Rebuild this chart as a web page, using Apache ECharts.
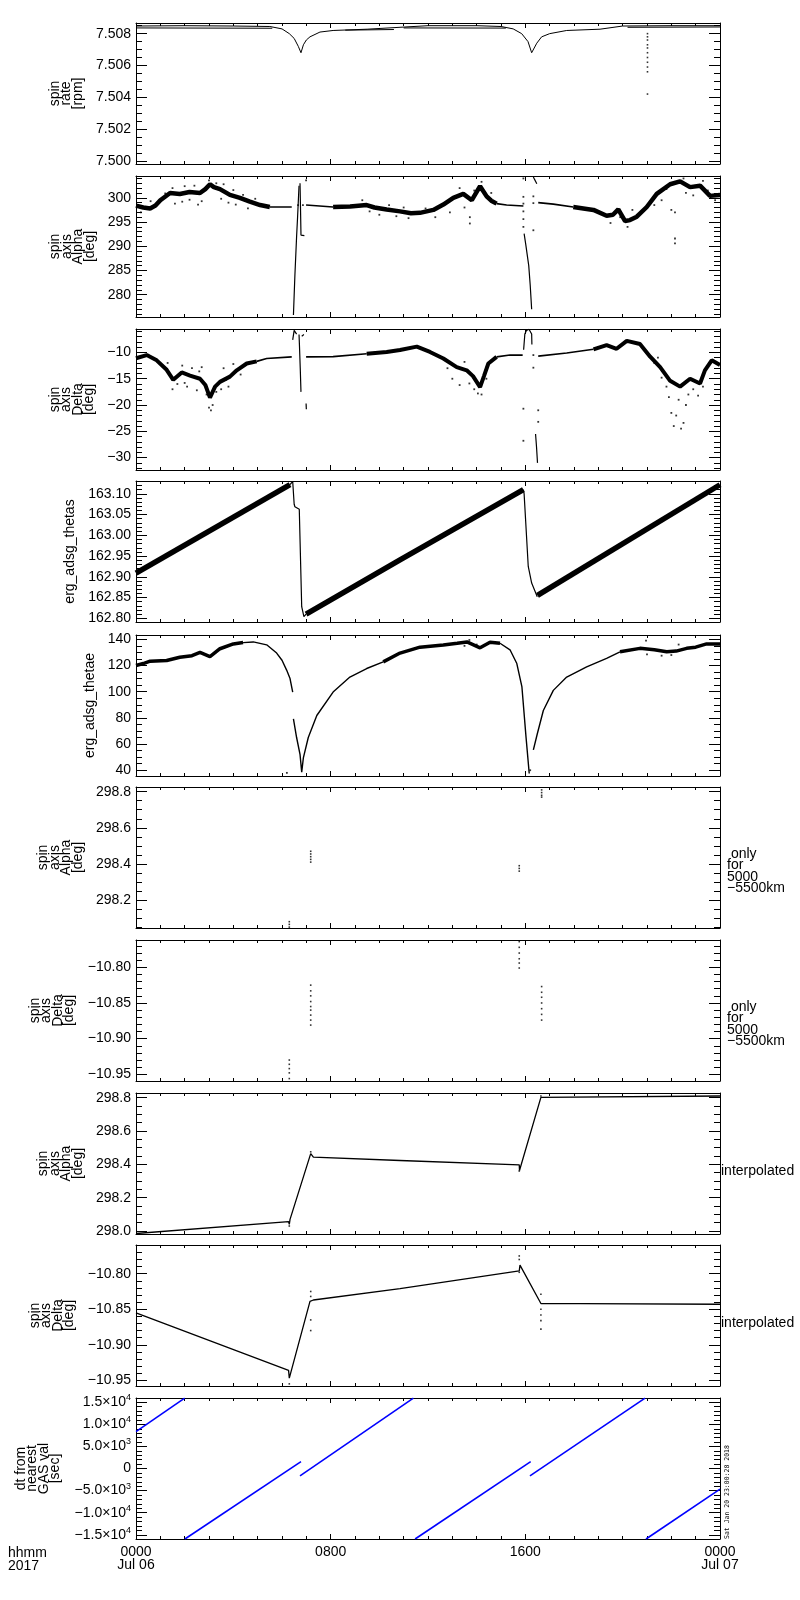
<!DOCTYPE html>
<html>
<head>
<meta charset="utf-8">
<title>spin axis</title>
<script src="https://cdn.jsdelivr.net/npm/echarts@6/dist/echarts.min.js"></script>
<style>
    html, body { margin: 0; padding: 0; background: #fff; }
    #main { width: 800px; height: 1600px; }
</style>
</head>
<body>
<div id="main"></div>
<script>
// time axis (hours from 0000 Jul 06)
var timeTicks = [0, 8, 16, 24];
var timeLabels = ['0000\nJul 06', '0800', '1600', '0000\nJul 07'];

// ---- panel 1: spin rate [rpm]
var rateTicks = [7.500, 7.502, 7.504, 7.506, 7.508];
var rateLabels = ['7.500', '7.502', '7.504', '7.506', '7.508'];
var rateMain = [[0, 7.50848], [2, 7.50850], [4, 7.50848], [5.5, 7.50845], [6.0, 7.5083], [6.3, 7.5080], [6.5, 7.5077],
    [6.67, 7.5072], [6.78, 7.5068], [6.88, 7.5073], [7.0, 7.5076], [7.15, 7.5078], [7.56, 7.5081], [8.1, 7.5082],
    [9.5, 7.50828], [10.85, 7.5084], [12, 7.5085], [14, 7.5085], [15.0, 7.50845], [15.5, 7.5083], [15.85, 7.5080],
    [16.11, 7.5075], [16.26, 7.5068], [16.47, 7.5074], [16.67, 7.5078], [17.0, 7.5080], [17.7, 7.5082],
    [19.07, 7.50828], [20.0, 7.50848], [22, 7.5085], [24, 7.5085]];
var rateLower = [
    [[0, 7.50836], [5.6, 7.50834]],
    [[8.6, 7.50822], [10.6, 7.50826]],
    [[11, 7.50836], [15.2, 7.50835]],
    [[20.2, 7.50840], [24, 7.50842]]
];
var rateSpike = [[21.02, 7.5080], [21.02, 7.5078], [21.02, 7.5076], [21.02, 7.5073], [21.02, 7.5071], [21.02, 7.5068],
    [21.02, 7.5065], [21.02, 7.5062], [21.02, 7.5059], [21.02, 7.5056], [21.02, 7.5042]];

// ---- panel 2: spin axis Alpha [deg]
var alphaTicks = [280, 285, 290, 295, 300];
var alphaLabels = ['280', '285', '290', '295', '300'];
var alphaNoisy = [
    [[0, 298.4], [0.3, 298.0], [0.58, 297.8], [0.8, 298.4], [1.0, 299.5], [1.4, 301.0], [1.8, 300.8], [2.2, 301.2],
        [2.63, 301.0], [2.85, 301.8], [3.04, 302.8], [3.2, 302.2], [3.45, 301.8], [3.86, 300.6], [4.27, 300.0],
        [4.68, 299.2], [5.1, 298.5], [5.5, 298.1]],
    [[8.1, 298.1], [8.8, 298.2], [9.48, 298.5], [9.8, 298.0], [10.3, 297.6], [10.85, 297.2], [11.3, 296.8],
        [11.67, 296.9], [12.22, 297.5], [12.63, 298.6], [13.04, 300.0], [13.45, 300.8], [13.8, 299.5], [14.14, 302.4],
        [14.41, 300.3], [14.6, 299.4], [14.82, 298.8]],
    [[17.97, 298.1], [18.8, 297.5], [19.34, 296.3], [19.6, 296.5], [19.82, 297.6], [20.1, 295.2], [20.3, 295.4],
        [20.58, 296.1], [20.99, 298.1], [21.4, 300.8], [21.95, 302.8], [22.36, 303.4], [22.77, 302.2], [23.18, 302.5],
        [23.59, 300.4], [24, 300.6]]
];
var alphaQuiet = [
    [[5.5, 298.1], [6.4, 298.1]],
    [[6.99, 298.5], [8.1, 298.1]],
    [[14.82, 298.8], [15.23, 298.5], [15.92, 298.3]],
    [[16.53, 299.0], [17.15, 298.7], [17.97, 298.1]]
];
var alphaJumps = [
    [[6.47, 275.8], [6.53, 284], [6.6, 292.0], [6.64, 296], [6.7, 302.5]],
    [[6.74, 303.0], [6.76, 298], [6.78, 292.3], [6.92, 292.2]],
    [[15.95, 292.6], [16.02, 290.3], [16.09, 290.0], [16.14, 286.0], [16.2, 282], [16.26, 277.0]],
    [[16.33, 304.3], [16.47, 302.9]]
];
var alphaDots = [[1.6, 298.8], [1.9, 299.2], [2.2, 299.6], [2.55, 298.6], [2.7, 299.3], [3.0, 303.6], [3.3, 303.0],
    [3.5, 299.8], [3.8, 299.0], [4.1, 298.6], [4.4, 300.6], [4.6, 297.8], [0.2, 297.0], [0.6, 299.3],
    [1.2, 300.9], [1.5, 302.0], [2.0, 302.4], [2.4, 302.5], [3.6, 302.8], [4.0, 301.6], [4.9, 299.8],
    [9.3, 299.5], [9.6, 297.2], [10.0, 296.5], [10.4, 298.5], [10.7, 296.2], [11.0, 298.0], [11.2, 295.8],
    [11.9, 297.8], [12.3, 296.0], [12.9, 297.0], [13.3, 302.0], [13.5, 298.0], [13.72, 294.7], [13.72, 296.0],
    [13.9, 301.5], [14.2, 303.3], [14.6, 301.0], [19.5, 294.8], [19.9, 296.0], [20.2, 294.0], [20.4, 297.5],
    [21.3, 298.5], [21.6, 299.5], [21.8, 301.8], [22.0, 297.5], [22.15, 291.6], [22.15, 290.6], [22.15, 297.0],
    [22.5, 304.0], [22.6, 301.0], [22.9, 300.5], [23.3, 303.5], [23.5, 301.5], [23.8, 299.5],
    [6.66, 298.5], [6.86, 298.5], [6.99, 303.6], [15.92, 300.2], [15.92, 298.8], [15.92, 297.2], [15.92, 295.6],
    [15.92, 294.0], [15.92, 304.0], [16.33, 300.3], [16.33, 298.9], [16.33, 293.3]];

// ---- panel 3: spin axis Delta [deg]
var deltaTicks = [-30, -25, -20, -15, -10];
var deltaLabels = ['\u221230', '\u221225', '\u221220', '\u221215', '\u221210'];
var deltaNoisy = [
    [[0, -11.1], [0.44, -10.5], [0.85, -11.5], [1.26, -13.3], [1.53, -15.2], [1.88, -13.8], [2.22, -14.4],
        [2.63, -15.0], [2.85, -16.2], [3.04, -18.6], [3.25, -16.5], [3.45, -15.6], [3.86, -14.6], [4.14, -13.4],
        [4.55, -12.1], [4.96, -11.7]],
    [[9.48, -10.25], [10.3, -9.9], [10.85, -9.55], [11.54, -8.9], [12.08, -9.9], [12.63, -11.15], [13.18, -12.8],
        [13.59, -13.4], [13.85, -14.5], [14.14, -16.6], [14.3, -14.5], [14.48, -12.1], [14.82, -10.85]],
    [[18.8, -9.4], [19.34, -8.6], [19.75, -9.3], [20.17, -7.8], [20.71, -8.4], [21.13, -10.8], [21.54, -12.8],
        [21.95, -15.4], [22.36, -16.5], [22.77, -15.0], [23.18, -15.9], [23.38, -13.4], [23.66, -11.5], [24, -12.4]]
];
var deltaQuiet = [
    [[4.96, -11.7], [5.37, -11.15], [6.4, -10.85]],
    [[6.99, -10.85], [8.1, -10.8], [9.48, -10.25]],
    [[14.82, -10.85], [15.37, -10.5], [15.89, -10.5]],
    [[16.53, -10.7], [17.7, -10.1], [18.8, -9.4]]
];
var deltaJumps = [
    [[6.44, -7.6], [6.5, -5.8], [6.56, -5.7], [6.6, -6.5]],
    [[6.7, -6.6], [6.72, -9], [6.75, -13], [6.78, -17.5]],
    [[6.81, -6.9], [6.9, -6.6]],
    [[6.99, -19.7], [7.0, -20.8]],
    [[15.93, -9.5], [15.98, -6.5], [16.05, -5.8], [16.15, -5.6], [16.22, -5.9], [16.26, -6.5], [16.27, -8.5]],
    [[16.42, -25.5], [16.46, -28], [16.5, -31.0]]
];
var deltaDots = [[1.5, -17.0], [1.7, -16.0], [1.9, -12.5], [2.1, -16.5], [2.3, -13.0], [2.5, -17.2], [2.7, -12.8],
    [2.9, -18.0], [3.0, -20.5], [3.08, -21.0], [3.15, -20.0], [3.3, -17.5], [3.5, -17.0], [3.6, -13.0],
    [3.8, -16.5], [4.0, -12.2], [4.3, -14.2], [1.3, -12.0], [2.0, -15.8], [2.6, -13.6], [3.7, -15.2],
    [12.8, -13.0], [13.0, -15.0], [13.3, -16.2], [13.5, -11.8],
    [13.7, -15.9], [13.9, -17.0], [14.05, -17.8], [14.2, -18.0], [14.4, -15.0], [20.9, -9.5], [21.3, -12.0],
    [21.45, -11.0], [21.6, -14.8], [21.8, -16.5], [21.9, -18.5], [22.0, -21.5], [22.1, -24.0], [22.2, -22.0],
    [22.3, -19.0], [22.4, -24.5], [22.5, -23.4], [22.6, -20.0], [22.7, -18.0], [22.9, -17.0], [23.1, -18.2],
    [23.3, -16.5], [15.92, -20.7], [15.92, -26.8], [16.53, -21.0], [16.53, -23.2], [16.33, -10.5],
    [16.33, -12.9]];

// ---- panel 4: erg_adsg_thetas
var thetasTicks = [162.80, 162.85, 162.90, 162.95, 163.00, 163.05, 163.10];
var thetasLabels = ['162.80', '162.85', '162.90', '162.95', '163.00', '163.05', '163.10'];
var thetasBand = [
    [[0, 162.909], [6.33, 163.122]],
    [[6.99, 162.81], [10.85, 162.941], [15.92, 163.11]],
    [[16.5, 162.855], [24, 163.122]]
];
var thetasJumps = [
    [[6.33, 163.122], [6.44, 163.13], [6.5, 163.075], [6.53, 163.069], [6.71, 163.063], [6.81, 162.828],
        [6.9, 162.804], [6.99, 162.81]],
    [[15.92, 163.11], [15.95, 163.10], [16.12, 162.925], [16.26, 162.885], [16.49, 162.852]]
];

// ---- panel 5: erg_adsg_thetae
var thetaeTicks = [40, 60, 80, 100, 120, 140];
var thetaeLabels = ['40', '60', '80', '100', '120', '140'];
var thetaeNoisy = [
    [[0, 120], [0.3, 121.5], [0.58, 123.3], [1.26, 123.8], [1.8, 126.3], [2.3, 127.5], [2.63, 130.0], [3.04, 126.8],
        [3.45, 132.8], [4.0, 136.5], [4.4, 137.5]],
    [[10.16, 122.8], [10.85, 129.5], [11.67, 134.0], [12.63, 135.6], [13.2, 137.0], [13.6, 138.0], [14.14, 133.5],
        [14.55, 137.8], [14.96, 137.0]],
    [[19.89, 130.5], [20.71, 133.1], [21.3, 132], [21.81, 130.5], [22.2, 131], [22.63, 133.1], [23.0, 134],
        [23.45, 136.5], [24, 136.5]]
];
var thetaeQuiet = [
    [[4.4, 137.5], [4.82, 138.0], [5.37, 135.8], [5.78, 129.5], [6.0, 124], [6.19, 116.5], [6.33, 110], [6.44, 99.7]],
    [[6.47, 79.2], [6.6, 65], [6.74, 52.2], [6.81, 38.5], [6.88, 49.7], [7.08, 65], [7.43, 81.8], [8.1, 99.7],
        [8.79, 111.2], [9.48, 117.7], [10.16, 122.8]],
    [[14.96, 137.0], [15.37, 132.0], [15.65, 121.5], [15.86, 103.6], [16.03, 65], [16.16, 37.5]],
    [[16.33, 55.5], [16.49, 67.7], [16.74, 85.6], [17.15, 101], [17.7, 111.2], [18.52, 118.9], [19.34, 125.4],
        [19.89, 130.5]]
];
var thetaeDots = [[13.5, 135], [13.7, 139.5], [14.0, 136], [20.96, 139], [21.0, 128.5], [21.6, 127.5],
    [22.0, 128], [22.3, 136], [6.2, 38], [16.2, 40]];

// ---- panel 6 and 7: only for 5000-5500km
var selAlphaTicks = [298.2, 298.4, 298.6, 298.8];
var selAlphaLabels = ['298.2', '298.4', '298.6', '298.8'];
var selAlphaDots = [[7.18, 298.47], [7.18, 298.455], [7.18, 298.44], [7.18, 298.425], [7.18, 298.41],
    [6.3, 298.08], [6.3, 298.065], [6.3, 298.05], [15.75, 298.39], [15.75, 298.375], [15.75, 298.36],
    [16.67, 298.81], [16.67, 298.795], [16.67, 298.78], [16.67, 298.77]];
var selDeltaTicks = [-10.95, -10.90, -10.85, -10.80];
var selDeltaLabels = ['\u221210.95', '\u221210.90', '\u221210.85', '\u221210.80'];
var selDeltaDots = [[7.18, -10.825], [7.18, -10.833], [7.18, -10.84], [7.18, -10.848], [7.18, -10.855],
    [7.18, -10.86], [7.18, -10.867], [7.18, -10.874], [7.18, -10.881], [6.3, -10.93], [6.3, -10.936],
    [6.3, -10.942], [6.3, -10.948], [6.3, -10.956], [15.75, -10.764], [15.75, -10.772], [15.75, -10.78],
    [15.75, -10.788], [15.75, -10.794], [15.75, -10.801], [16.67, -10.827], [16.67, -10.835], [16.67, -10.842],
    [16.67, -10.85], [16.67, -10.858], [16.67, -10.866], [16.67, -10.874]];

// ---- panel 8 and 9: interpolated
var intAlphaTicks = [298.0, 298.2, 298.4, 298.6, 298.8];
var intAlphaLabels = ['298.0', '298.2', '298.4', '298.6', '298.8'];
var intAlphaLine = [[0, 297.985], [6.27, 298.056], [6.3, 298.04], [6.33, 298.07], [7.18, 298.464], [7.29, 298.443],
    [10.85, 298.423], [15.75, 298.397], [15.76, 298.363], [16.64, 298.802], [24, 298.81]];
var intAlphaDots = [[6.3, 298.03], [7.18, 298.475], [15.75, 298.36], [16.64, 298.81]];
var intDeltaTicks = [-10.95, -10.90, -10.85, -10.80];
var intDeltaLabels = ['\u221210.95', '\u221210.90', '\u221210.85', '\u221210.80'];
var intDeltaLine = [[0, -10.855], [6.27, -10.936], [6.3, -10.947], [7.15, -10.839], [7.29, -10.837],
    [10.85, -10.821], [15.75, -10.796], [15.78, -10.788], [16.64, -10.842], [18.25, -10.842], [18.3, -10.843],
    [24, -10.843]];
var intDeltaDots = [[15.75, -10.775], [15.75, -10.78], [15.75, -10.798], [16.64, -10.829], [16.64, -10.85],
    [16.64, -10.858], [16.64, -10.866], [16.64, -10.878], [7.18, -10.825], [7.18, -10.832], [7.18, -10.865],
    [7.18, -10.88], [6.3, -10.955]];

// ---- panel 10: dt from nearest GAS val [sec]
var dtTicks = [-15000, -10000, -5000, 0, 5000, 10000, 15000];
var dtLabels = ['\u22121.5\u00d710{s|4}', '\u22121.0\u00d710{s|4}', '\u22125.0\u00d710{s|3}', '0',
    '5.0\u00d710{s|3}', '1.0\u00d710{s|4}', '1.5\u00d710{s|4}'];
var dtSegments = [
    [[0, 8350], [2.0, 15950]],
    [[2.01, -15950], [6.78, 1570]],
    [[6.74, -1660], [11.4, 15950]],
    [[11.47, -15950], [16.22, 1570]],
    [[16.19, -1660], [20.92, 15950]],
    [[20.96, -15950], [24, -4670]]
];

var FONT = 'Liberation Sans';
var panelTop = [23, 176, 329, 481, 635, 787, 940, 1093, 1245, 1398];
var panelHeight = 141;

var panels = [
    {name: 'spin\nrate\n[rpm]', gap: 51, min: 7.4998, max: 7.50867, ticks: rateTicks, labels: rateLabels, minor: 0.0005},
    {name: 'spin\naxis\nAlpha\n[deg]', gap: 38, min: 275.4, max: 304.5, ticks: alphaTicks, labels: alphaLabels, minor: 1},
    {name: 'spin\naxis\nDelta\n[deg]', gap: 39, min: -32.36, max: -5.54, ticks: deltaTicks, labels: deltaLabels, minor: 1},
    {name: 'erg_adsg_thetas', gap: 59, min: 162.791, max: 163.131, ticks: thetasTicks, labels: thetasLabels, minor: 0.01},
    {name: 'erg_adsg_thetae', gap: 39, min: 35.6, max: 143.3, ticks: thetaeTicks, labels: thetaeLabels, minor: 5},
    {name: 'spin\naxis\nAlpha\n[deg]', gap: 51, min: 298.045, max: 298.826, ticks: selAlphaTicks, labels: selAlphaLabels, minor: 0.05},
    {name: 'spin\naxis\nDelta\n[deg]', gap: 61, min: -10.9594, max: -10.7617, ticks: selDeltaTicks, labels: selDeltaLabels, minor: 0.01},
    {name: 'spin\naxis\nAlpha\n[deg]', gap: 51, min: 297.982, max: 298.828, ticks: intAlphaTicks, labels: intAlphaLabels, minor: 0.05},
    {name: 'spin\naxis\nDelta\n[deg]', gap: 61, min: -10.958, max: -10.7596, ticks: intDeltaTicks, labels: intDeltaLabels, minor: 0.01},
    {name: 'dt from\nnearest\nGAS val\n[sec]', gap: 75, min: -15950, max: 15970, ticks: dtTicks, labels: dtLabels, minor: 1000}
];

function stepsBetween(min, max, step) {
    var out = [];
    var k0 = Math.ceil(min / step - 1e-6), k1 = Math.floor(max / step + 1e-6);
    for (var k = k0; k <= k1; k++) {
        out.push(+(k * step).toFixed(6));
    }
    return out;
}

function labelFor(ticks, labels) {
    return function (v) {
        var best = 0;
        for (var i = 1; i < ticks.length; i++) {
            if (Math.abs(ticks[i] - v) < Math.abs(ticks[best] - v)) best = i;
        }
        return labels[best];
    };
}

var black = {color: '#000', width: 1};
var grids = [], xAxes = [], yAxes = [], series = [];

panels.forEach(function (p, i) {
    var last = i === panels.length - 1;
    grids.push({left: 136, width: 584, top: panelTop[i], height: panelHeight, containLabel: false, outerBoundsMode: 'none'});

    ['bottom', 'top'].forEach(function (pos) {
        xAxes.push({
            gridIndex: i, type: 'value', min: 0, max: 24, interval: 8, position: pos,
            axisLine: {show: true, onZero: false, lineStyle: black},
            axisTick: {show: true, inside: true, length: 5, lineStyle: black},
            minorTick: {show: true, splitNumber: 8, length: 3, lineStyle: black},
            splitLine: {show: false}, minorSplitLine: {show: false},
            axisLabel: {
                show: last && pos === 'bottom', margin: 7, color: '#000', fontFamily: FONT, fontSize: 14,
                lineHeight: 12.5, showMinLabel: true, showMaxLabel: true,
                formatter: labelFor(timeTicks, timeLabels)
            }
        });
    });

    var minors = stepsBetween(p.min, p.max, p.minor);
    ['left', 'right'].forEach(function (pos) {
        yAxes.push({
            gridIndex: i, type: 'value', min: p.min, max: p.max, position: pos,
            name: pos === 'left' ? p.name : '', nameLocation: 'middle', nameRotate: 90, nameGap: p.gap,
            nameTextStyle: {color: '#000', fontFamily: FONT, fontSize: 14, lineHeight: 11.5},
            axisLine: {show: true, onZero: false, lineStyle: black},
            axisTick: {show: true, inside: true, length: 11, customValues: p.ticks, lineStyle: black},
            axisLabel: {
                show: pos === 'left', customValues: p.ticks, formatter: labelFor(p.ticks, p.labels),
                margin: 5, color: '#000', fontFamily: FONT, fontSize: 14, lineHeight: last ? 18 : 14,
                rich: {s: {fontFamily: FONT, fontSize: 9, lineHeight: 10, verticalAlign: 'top', color: '#000'}}
            },
            splitLine: {show: false}
        });
        yAxes.push({
            gridIndex: i, type: 'value', min: p.min, max: p.max, position: pos,
            axisLine: {show: false, onZero: false},
            axisTick: {show: true, inside: true, length: 6, customValues: minors, lineStyle: black},
            axisLabel: {show: false},
            splitLine: {show: false}
        });
    });
});

function lines(panel, list, width, color) {
    return list.map(function (seg) {
        return {
            type: 'line', xAxisIndex: panel * 2, yAxisIndex: panel * 4, data: seg,
            showSymbol: false, silent: true, animation: false,
            lineStyle: {color: color || '#000', width: width}
        };
    });
}

function dots(panel, data, size) {
    return {
        type: 'scatter', xAxisIndex: panel * 2, yAxisIndex: panel * 4, data: data,
        symbol: 'rect', symbolSize: size || 2, silent: true, animation: false,
        itemStyle: {color: '#000'}
    };
}

series = series.concat(
    lines(0, [rateMain], 1), lines(0, rateLower, 1), [dots(0, rateSpike, 1.6)],
    lines(1, alphaNoisy, 4.5), lines(1, alphaQuiet, 1.6), lines(1, alphaJumps, 1.2), [dots(1, alphaDots, 1.8)],
    lines(2, deltaNoisy, 4), lines(2, deltaQuiet, 1.6), lines(2, deltaJumps, 1.2), [dots(2, deltaDots, 1.8)],
    lines(3, thetasBand, 5.5), lines(3, thetasJumps, 1.2),
    lines(4, thetaeNoisy, 3.5), lines(4, thetaeQuiet, 1.4), [dots(4, thetaeDots, 1.8)],
    [dots(5, selAlphaDots, 1.6)],
    [dots(6, selDeltaDots, 1.6)],
    lines(7, [intAlphaLine], 1.3), [dots(7, intAlphaDots, 1.6)],
    lines(8, [intDeltaLine], 1.3), [dots(8, intDeltaDots, 1.6)],
    lines(9, dtSegments, 1.6, '#0000ff')
);

var textStyle = {font: '14px "' + FONT + '"', fill: '#000', lineHeight: 11.5};

var myChart = echarts.init(document.getElementById('main'), null, {renderer: 'canvas'});
myChart.setOption({
    animation: false,
    backgroundColor: '#fff',
    textStyle: {fontFamily: FONT},
    grid: grids,
    xAxis: xAxes,
    yAxis: yAxes,
    series: series,
    graphic: [
        {type: 'text', x: 727, y: 848, style: Object.assign({text: ' only\nfor\n5000\n\u22125500km'}, textStyle)},
        {type: 'text', x: 727, y: 1001, style: Object.assign({text: ' only\nfor\n5000\n\u22125500km'}, textStyle)},
        {type: 'text', x: 721, y: 1165, style: Object.assign({text: 'interpolated'}, textStyle)},
        {type: 'text', x: 721, y: 1317, style: Object.assign({text: 'interpolated'}, textStyle)},
        {type: 'text', x: 8, y: 1547, style: {text: 'hhmm\n2017', font: '14px "' + FONT + '"', fill: '#000', lineHeight: 12.5}},
        {type: 'text', x: 727, y: 1539, rotation: Math.PI / 2,
            style: {text: 'Sat Jan 20 23:00:28 2018', font: '6.5px "DejaVu Sans Mono"', fill: '#000', verticalAlign: 'middle', align: 'left'}}
    ]
});
</script>
</body>
</html>
